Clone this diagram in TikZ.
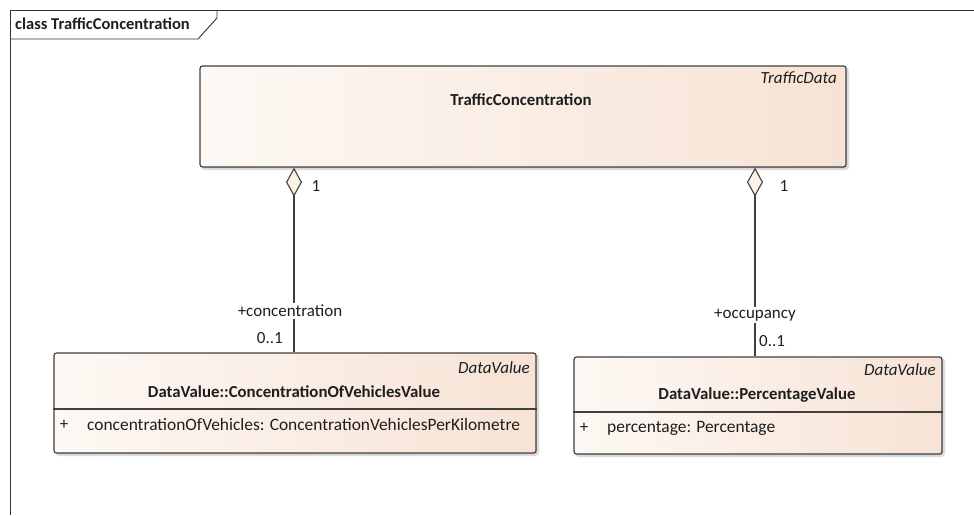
\documentclass[tikz,border=0pt]{standalone}
\usepackage{fontspec}
\setmainfont{Carlito}
\usetikzlibrary{arrows.meta,shadows.blur,calc}
\definecolor{boxL}{HTML}{FDF8F4}
\definecolor{boxR}{HTML}{F7E3D5}
\definecolor{edge}{HTML}{404040}
\definecolor{dfill}{HTML}{FCF3E6}
\definecolor{txt}{HTML}{1E1E1E}
\tikzset{
  umlbox/.style={rectangle, rounded corners=2.5pt, draw=edge, line width=1.2pt,
     left color=boxL, right color=boxR, inner sep=0pt,
     blur shadow={shadow xshift=2pt, shadow yshift=-2pt, shadow blur steps=6, shadow opacity=25}},
  lbl/.style={inner sep=1pt, text=txt, font=\fontsize{17}{19}\selectfont},
  attr/.style={lbl, font=\fontsize{17.4}{19}\selectfont, anchor=west},
  stereo/.style={lbl, font=\fontsize{17}{19}\selectfont\itshape, anchor=east},
  cname/.style={lbl, font=\fontsize{16.8}{19}\selectfont\bfseries},
  aggr/.style={draw=edge, line width=1.2pt, {Diamond[length=29pt, width=16pt, fill=dfill, line width=1.1pt]}-},
  framel/.style={draw=black!80, line width=0.9pt}
}
\begin{document}
\begin{tikzpicture}[x=1pt,y=-1pt]
\useasboundingbox (0,0) rectangle (974,515);
% frame
\draw[framel] (974,10) -- (10,10) -- (10,515);
\draw[framel] (10,39) -- (198,39) -- (217,18) -- (217,10);
\node[lbl, anchor=west, font=\fontsize{16.5}{18}\selectfont\bfseries] (ftitle) at (14,24) {class TrafficConcentration};
% boxes
\node[umlbox, minimum width=646pt, minimum height=101pt] (top) at (523,116.5) {};
\node[umlbox, minimum width=482pt, minimum height=100pt] (lb) at (295,403) {};
\node[umlbox, minimum width=368pt, minimum height=97pt] (rb) at (758,405.5) {};
% top box text
\node[stereo] (tst) at (838,78) {TrafficData};
\node[cname] (tname) at (521,100) {TrafficConcentration};
% left box text
\node[stereo] (lst) at (531,368) {DataValue};
\node[cname] (lname) at (294,392) {DataValue::ConcentrationOfVehiclesValue};
\draw[draw=edge, line width=1.2pt] (lb.west |- 0,409) -- (lb.east |- 0,409);
\node[lbl] (lplus) at (64,425) {+};
\node[attr] (lattr) at (86,425) {concentrationOfVehicles: ConcentrationVehiclesPerKilometre};
% right box text
\node[stereo] (rst) at (937,370) {DataValue};
\node[cname] (rname) at (757,395) {DataValue::PercentageValue};
\draw[draw=edge, line width=1.2pt] (rb.west |- 0,412) -- (rb.east |- 0,412);
\node[lbl] (rplus) at (584,428) {+};
\node[attr] (rattr) at (606,428) {percentage: Percentage};
% connectors
\coordinate (la) at ([xshift=-1pt]lb.north);
\coordinate (ra) at ([xshift=-3pt]rb.north);
\draw[aggr] (la |- top.south) -- (la);
\draw[aggr] (ra |- top.south) -- (ra);
% labels
\node[lbl] (m1) at (316,186) {1};
\node[lbl] (m2) at (784,186) {1};
\node[lbl, fill=white, inner sep=2pt] (rolec) at (290,311) {+concentration};
\node[lbl, anchor=east] (mc) at (284,338) {0..1};
\node[lbl, fill=white, inner sep=2pt] (roleo) at (755,315) {+occupancy};
\node[lbl, anchor=west] (mo) at (758,341) {0..1};
\end{tikzpicture}
\end{document}
